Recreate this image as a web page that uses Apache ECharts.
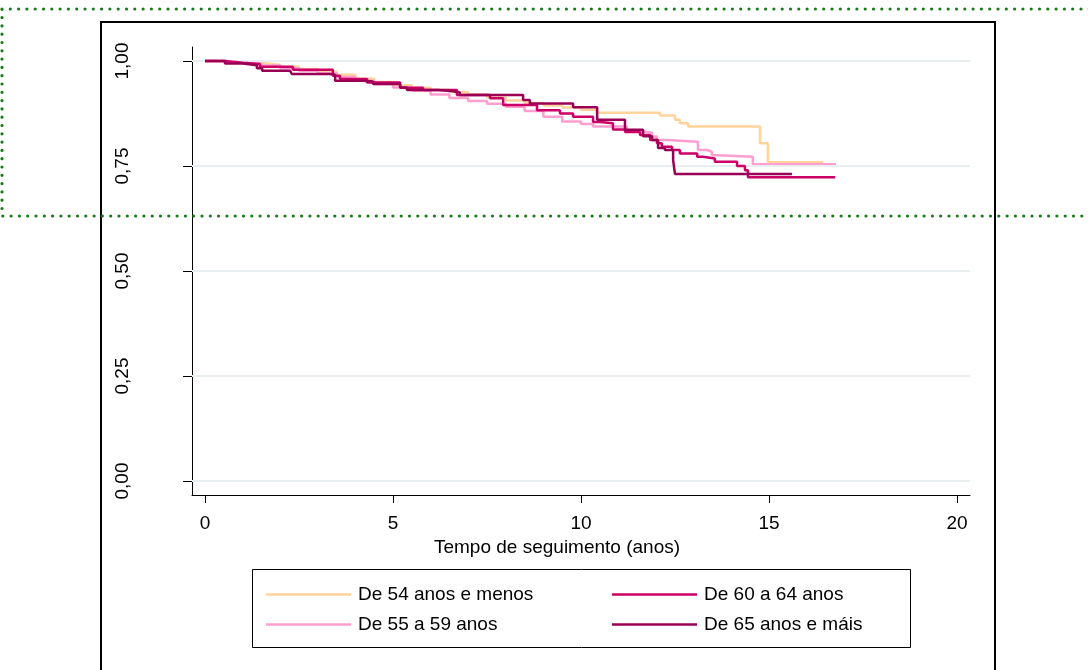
<!DOCTYPE html>
<html>
<head>
<meta charset="utf-8">
<script src="https://cdn.jsdelivr.net/npm/echarts@6/dist/echarts.min.js"></script>
<style>html,body{margin:0;padding:0;background:#fff;}#c{width:1088px;height:670px;}</style>
</head>
<body>
<div id="c"></div>
<script>
// ---- data ----
const xTicks = [0, 5, 10, 15, 20];
const yTicks = [0, 0.25, 0.5, 0.75, 1];
const xTitle = 'Tempo de seguimento (anos)';
const names = ['De 54 anos e menos', 'De 55 a 59 anos', 'De 60 a 64 anos', 'De 65 anos e máis'];

const t54 = [0, 0.5, 1.0, 1.5, 2.0, 2.5, 3.0, 3.5, 4.0, 4.5, 5.0, 5.5, 6.0, 6.5, 7.0, 7.5, 8.0, 8.5, 9.0, 9.5, 10.0, 10.4, 12.1, 12.5, 12.63, 12.85, 14.76, 14.97, 16.44];
const s54 = [1.0, 0.998, 0.995, 0.991, 0.986, 0.981, 0.975, 0.967, 0.958, 0.950, 0.942, 0.936, 0.931, 0.926, 0.920, 0.913, 0.906, 0.900, 0.894, 0.889, 0.884, 0.877, 0.870, 0.860, 0.852, 0.844, 0.804, 0.759, 0.759];

const t55 = [0, 0.5, 1.0, 1.5, 2.0, 2.5, 3.0, 3.5, 4.0, 4.5, 5.0, 5.5, 6.0, 6.5, 7.0, 7.5, 8.0, 8.5, 9.0, 9.5, 10.0, 10.32, 11.22, 11.65, 11.89, 12.02, 12.29, 13.11, 13.35, 13.48, 13.51, 14.57, 16.78];
const s55 = [1.0, 0.998, 0.994, 0.989, 0.983, 0.977, 0.970, 0.962, 0.953, 0.945, 0.937, 0.929, 0.920, 0.912, 0.905, 0.898, 0.891, 0.881, 0.867, 0.856, 0.850, 0.844, 0.832, 0.829, 0.820, 0.812, 0.808, 0.788, 0.784, 0.776, 0.772, 0.754, 0.754];

const t60 = [0, 0.53, 1.01, 1.46, 2.34, 3.40, 3.59, 4.31, 5.19, 5.80, 6.70, 7.58, 7.93, 8.83, 9.44, 9.79, 10.32, 10.51, 10.85, 11.17, 11.57, 11.84, 12.02, 12.15, 12.42, 12.63, 13.09, 13.24, 13.56, 14.15, 14.36, 14.44, 16.76];
const s60 = [1.0, 0.996, 0.993, 0.986, 0.979, 0.965, 0.957, 0.949, 0.936, 0.931, 0.919, 0.911, 0.895, 0.883, 0.875, 0.867, 0.855, 0.852, 0.837, 0.831, 0.824, 0.812, 0.804, 0.796, 0.788, 0.780, 0.772, 0.768, 0.760, 0.750, 0.740, 0.723, 0.723];

const t65 = [0, 0.53, 1.01, 1.38, 1.52, 2.26, 2.31, 3.32, 3.46, 4.20, 4.47, 5.19, 5.37, 6.20, 6.60, 6.78, 8.46, 8.64, 9.79, 10.43, 11.17, 11.65, 11.89, 12.05, 12.23, 12.45, 12.50, 15.61];
const s65 = [1.0, 0.994, 0.990, 0.983, 0.977, 0.975, 0.969, 0.967, 0.953, 0.951, 0.945, 0.937, 0.931, 0.928, 0.925, 0.919, 0.907, 0.899, 0.890, 0.860, 0.836, 0.821, 0.812, 0.793, 0.788, 0.764, 0.731, 0.731];

const colors = ['#FFD39B', '#FF9ECF', '#CC0066', '#990055'];
// ---- end data ----

const zip = (t, s) => t.map((v, i) => [v, s[i]]);
const sets = [zip(t54, s54), zip(t55, s55), zip(t60, s60), zip(t65, s65)];
const FONT = 'Liberation Sans, Arial, sans-serif';

const series = sets.map((d, i) => ({
  name: names[i],
  type: 'line',
  step: 'end',
  data: d,
  symbol: 'none',
  showSymbol: false,
  lineStyle: { color: colors[i], width: 2.5 },
  itemStyle: { color: colors[i] },
  z: 3 + i,
  animation: false
}));
// gridlines
series.push({
  type: 'line',
  data: [],
  silent: true,
  z: 1,
  markLine: {
    silent: true,
    symbol: ['none', 'none'],
    label: { show: false },
    animation: false,
    lineStyle: { color: '#E9EFF1', width: 2, type: 'solid' },
    data: yTicks.map(v => ({ yAxis: v }))
  }
});

const legendBase = {
  orient: 'vertical', top: 580, itemWidth: 85, itemHeight: 2.5, itemGap: 11,
  icon: 'rect',
  textStyle: { fontFamily: FONT, fontSize: 19, color: '#000', lineHeight: 19, padding: [0, 0, 0, 2] },
  selectedMode: false
};

const chart = echarts.init(document.getElementById('c'), null, { renderer: 'canvas' });
chart.setOption({
  animation: false,
  backgroundColor: '#ffffff',
  color: colors,
  grid: { left: 192, top: 47, width: 778, height: 448, containLabel: false },
  xAxis: {
    type: 'value',
    min: -0.3457, max: 20.3457,
    name: xTitle,
    nameLocation: 'middle',
    nameGap: 40,
    nameTextStyle: { fontFamily: FONT, fontSize: 19, color: '#000', padding: [0, 48, 0, 0] },
    axisLine: { show: true, onZero: false, lineStyle: { color: '#000', width: 1 } },
    axisTick: { show: true, length: 8, lineStyle: { color: '#000' }, customValues: xTicks },
    axisLabel: { show: true, margin: 19, fontFamily: FONT, fontSize: 19, color: '#000', customValues: xTicks },
    splitLine: { show: false }
  },
  yAxis: {
    type: 'value',
    min: -0.0333, max: 1.0333,
    axisLine: { show: true, onZero: false, lineStyle: { color: '#000', width: 1 } },
    axisTick: { show: true, length: 9, lineStyle: { color: '#000' }, customValues: yTicks },
    axisLabel: {
      show: true, rotate: 90, margin: 60, fontFamily: FONT, fontSize: 19, color: '#000',
      customValues: yTicks,
      formatter: v => Number(v).toFixed(2).replace('.', ',')
    },
    splitLine: { show: false }
  },
  legend: [
    Object.assign({}, legendBase, { left: 261, data: [names[0], names[1]] }),
    Object.assign({}, legendBase, { left: 607, data: [names[2], names[3]] })
  ],
  graphic: [
    { type: 'rect', z: 0, shape: { x: 101, y: 22, width: 894, height: 700 }, style: { fill: null, stroke: '#000', lineWidth: 2 } },
    { type: 'rect', z: 0, shape: { x: 252.5, y: 569.5, width: 658, height: 78 }, style: { fill: null, stroke: '#000', lineWidth: 1 } },
    { type: 'rect', z: 100, shape: { x: 2, y: 9, width: 1200, height: 207 }, style: { fill: null, stroke: '#167a16', lineWidth: 3.2, lineDash: [0, 8.3], lineCap: 'round' } }
  ],
  series: series
});
</script>
</body>
</html>
